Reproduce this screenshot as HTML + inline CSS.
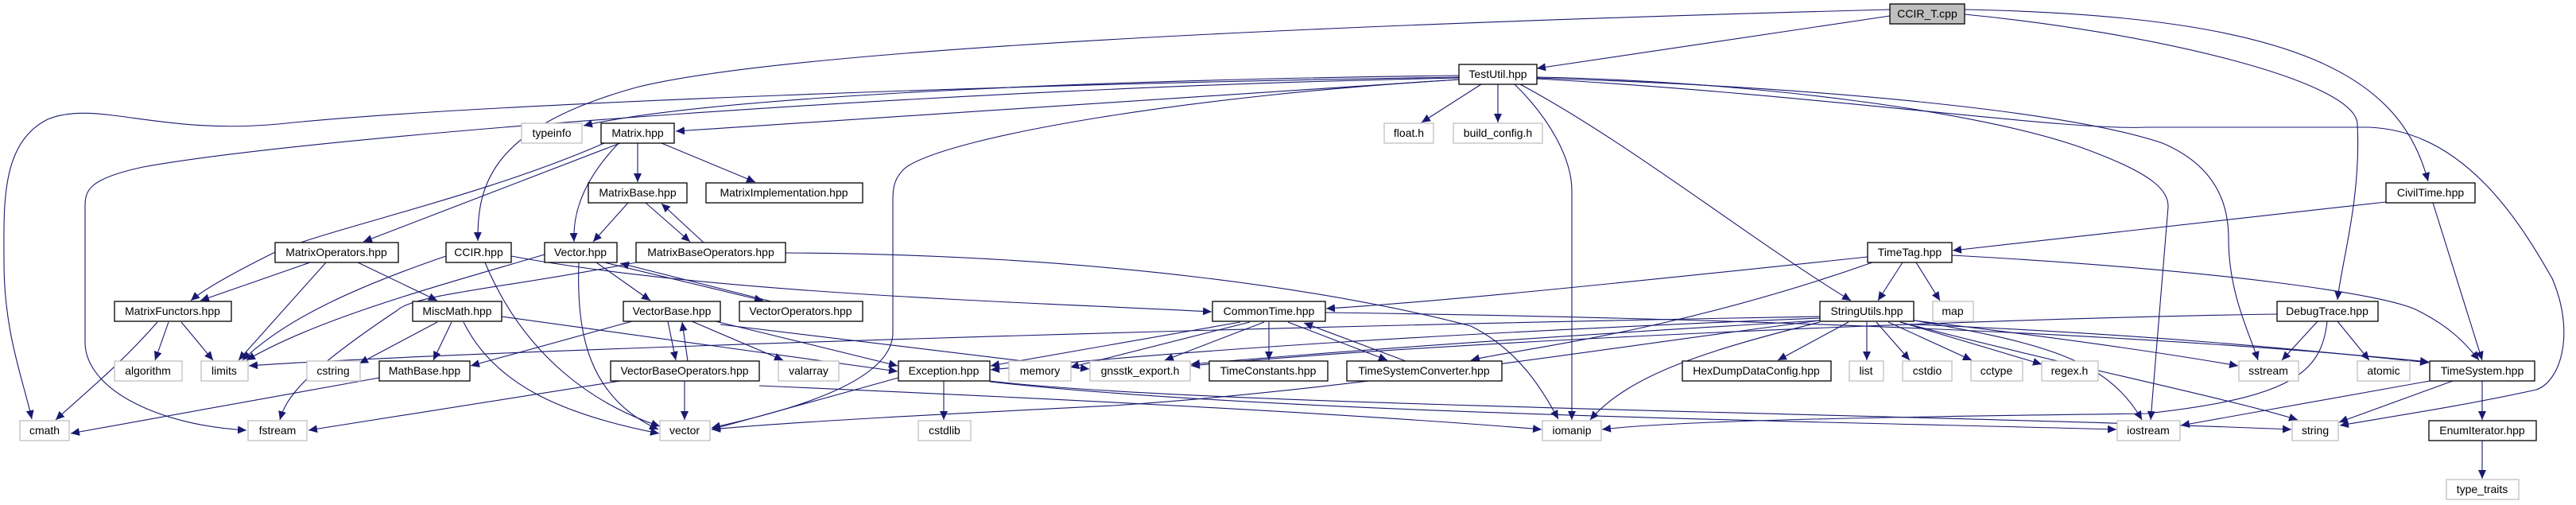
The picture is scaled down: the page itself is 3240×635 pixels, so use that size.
<!DOCTYPE html>
<html><head><meta charset="utf-8"><style>
html,body{margin:0;padding:0;background:#fff}
svg{display:block}
text{font-family:"Liberation Sans",sans-serif;font-size:14px;fill:#000}
.n{fill:#fff;stroke:#000;stroke-width:1.3}
.g{fill:#fff;stroke:#bfbfbf;stroke-width:1.3}
.e{fill:none;stroke:#191970;stroke-width:1.1;marker-end:url(#a)}
</style></head><body>
<svg width="3240" height="635" viewBox="0 0 3240 635" xmlns="http://www.w3.org/2000/svg">
<defs><marker id="a" markerUnits="userSpaceOnUse" markerWidth="12" markerHeight="10" refX="11" refY="5" orient="auto"><path d="M0,0 L11,5 L0,10 z" fill="#191970"/></marker></defs>
<g>
<path class="e" d="M2377,20 L1933,86"/>
<path class="e" d="M2377,12 C1700,30 1000,60 800,110 C620,160 600,230 601,303"/>
<path class="e" d="M2471,12 C2900,20 3020,100 3054,228"/>
<path class="e" d="M2471,18 C2700,40 2960,100 2965,155 C2970,250 2945,330 2940,377"/>
<path class="e" d="M1835,95 C1400,100 900,120 734,158"/>
<path class="e" d="M1835,100 L850,165"/>
<path class="e" d="M1835,97 C1300,105 600,130 350,156 C200,170 120,125 60,150 C0,180 5,260 5,330 C5,420 30,480 40,527"/>
<path class="e" d="M1835,98 C1200,110 400,170 180,210 C110,225 107,240 107,260 L107,430 C107,490 200,535 310,541"/>
<path class="e" d="M1835,100 C1500,120 1200,170 1140,210 C1122,225 1123,240 1123,260 L1123,420 C1120,490 950,525 895,538"/>
<path class="e" d="M1863,106 L1788,154"/>
<path class="e" d="M1884,106 L1884,154"/>
<path class="e" d="M1905,106 C1950,150 1977,200 1977,240 L1977,528"/>
<path class="e" d="M1933,97 C2200,102 2500,140 2630,190 C2710,220 2727,240 2727,260 L2705,528"/>
<path class="e" d="M1933,98 C2300,110 2600,140 2720,180 C2790,210 2803,260 2803,300 C2803,370 2830,420 2840,453"/>
<path class="e" d="M1933,99 C2300,120 2600,165 2700,160 L2980,160 C3100,165 3170,280 3210,350 C3240,420 3220,480 3190,490 C3100,510 3000,525 2943,535"/>
<path class="e" d="M1912,106 C2050,180 2200,300 2328,378"/>
<path class="e" d="M802,180 L802,229"/>
<path class="e" d="M832,180 L950,229"/>
<path class="e" d="M780,180 L457,304"/>
<path class="e" d="M760,180 C600,250 400,290 340,320 C290,345 255,365 240,378"/>
<path class="e" d="M778,180 C740,220 720,260 722,304"/>
<path class="e" d="M790,255 L746,304"/>
<path class="e" d="M812,255 L868,304"/>
<path class="e" d="M885,305 L832,256"/>
<path class="e" d="M988,318 C1400,320 1700,370 1850,410 C1910,440 1940,490 1960,527"/>
<path class="e" d="M390,330 L252,378"/>
<path class="e" d="M410,330 L300,453"/>
<path class="e" d="M450,330 L550,378"/>
<path class="e" d="M561,322 C450,360 360,400 305,453"/>
<path class="e" d="M610,330 C660,450 750,510 830,536"/>
<path class="e" d="M643,322 C900,370 1300,380 1524,392"/>
<path class="e" d="M685,320 C550,360 400,400 310,453"/>
<path class="e" d="M750,330 L818,378"/>
<path class="e" d="M760,330 L960,378"/>
<path class="e" d="M970,379 L780,331"/>
<path class="e" d="M728,330 C725,420 740,500 828,540"/>
<path class="e" d="M800,330 C650,360 520,370 500,390 C380,470 360,500 352,528"/>
<path class="e" d="M840,404 L850,453"/>
<path class="e" d="M865,454 L858,405"/>
<path class="e" d="M795,404 L592,460"/>
<path class="e" d="M870,404 L985,453"/>
<path class="e" d="M900,404 L1129,460"/>
<path class="e" d="M906,408 L1370,464"/>
<path class="e" d="M861,479 L861,528"/>
<path class="e" d="M780,479 L388,541"/>
<path class="e" d="M955,485 C1300,500 1700,520 1939,540"/>
<path class="e" d="M198,405 C150,460 100,500 70,528"/>
<path class="e" d="M212,405 L195,453"/>
<path class="e" d="M228,405 L268,453"/>
<path class="e" d="M550,405 L452,457"/>
<path class="e" d="M568,405 L545,453"/>
<path class="e" d="M583,405 C620,480 700,520 829,545"/>
<path class="e" d="M631,398 L1129,467"/>
<path class="e" d="M477,475 L89,545"/>
<path class="e" d="M1560,405 L1246,460"/>
<path class="e" d="M1572,405 L1346,462"/>
<path class="e" d="M1590,405 L1465,453"/>
<path class="e" d="M1596,405 L1596,453"/>
<path class="e" d="M1620,405 L1745,453"/>
<path class="e" d="M1768,454 L1640,406"/>
<path class="e" d="M1667,393 C2200,400 2700,420 3055,455"/>
<path class="e" d="M1187,479 L1187,528"/>
<path class="e" d="M1130,475 L895,540"/>
<path class="e" d="M1245,479 C1500,510 2400,520 2882,540"/>
<path class="e" d="M1245,480 C1600,520 2300,530 2662,540"/>
<path class="e" d="M2349,323 C2000,360 1800,380 1668,388"/>
<path class="e" d="M2393,330 L2362,378"/>
<path class="e" d="M2410,330 L2440,378"/>
<path class="e" d="M2455,321 C2800,340 3000,370 3040,390 C3080,410 3100,430 3118,453"/>
<path class="e" d="M2355,330 C2100,420 1900,440 1850,453"/>
<path class="e" d="M3001,254 L2456,315"/>
<path class="e" d="M3060,255 L3122,453"/>
<path class="e" d="M2325,405 L2236,453"/>
<path class="e" d="M2348,405 L2348,453"/>
<path class="e" d="M2360,405 L2402,453"/>
<path class="e" d="M2375,405 L2480,453"/>
<path class="e" d="M2390,405 L2568,458"/>
<path class="e" d="M2407,403 C2550,420 2700,440 2815,460"/>
<path class="e" d="M2407,408 C2700,420 2900,440 3055,456"/>
<path class="e" d="M2408,403 C2560,430 2650,449 2694,528"/>
<path class="e" d="M2390,405 C2600,460 2800,500 2890,528"/>
<path class="e" d="M2289,405 C2150,440 2050,470 2000,528"/>
<path class="e" d="M2289,400 C1800,420 1500,440 1246,465"/>
<path class="e" d="M2289,403 C2000,420 1700,440 1498,458"/>
<path class="e" d="M2289,398 C1600,410 600,440 313,460"/>
<path class="e" d="M2289,403 C2000,440 1700,490 1400,510 C1200,520 1000,530 895,540"/>
<path class="e" d="M2915,404 L2870,453"/>
<path class="e" d="M2940,404 L2980,453"/>
<path class="e" d="M2927,404 C2920,470 2880,500 2700,520 C2300,525 2100,530 2015,540"/>
<path class="e" d="M2864,395 C2500,400 1800,430 1498,460"/>
<path class="e" d="M3056,479 L2743,535"/>
<path class="e" d="M3085,479 L2942,531"/>
<path class="e" d="M3122,479 L3122,528"/>
<path class="e" d="M3122,554 L3122,602"/>
</g>
<g>
<rect x="2377" y="5" width="94" height="25" fill="#bfbfbf" stroke="#000" stroke-width="1.3"/><text x="2424" y="22" text-anchor="middle">CCIR_T.cpp</text>
<rect class="n" x="1835" y="81" width="98" height="25"/><text x="1884" y="98" text-anchor="middle">TestUtil.hpp</text>
<rect class="g" x="656" y="155" width="76" height="25"/><text x="694" y="172" text-anchor="middle">typeinfo</text>
<rect class="n" x="756" y="155" width="92" height="25"/><text x="802" y="172" text-anchor="middle">Matrix.hpp</text>
<rect class="g" x="1741" y="155" width="62" height="25"/><text x="1772" y="172" text-anchor="middle">float.h</text>
<rect class="g" x="1828" y="155" width="112" height="25"/><text x="1884" y="172" text-anchor="middle">build_config.h</text>
<rect class="n" x="740" y="230" width="124" height="25"/><text x="802" y="247" text-anchor="middle">MatrixBase.hpp</text>
<rect class="n" x="888" y="230" width="197" height="25"/><text x="986" y="247" text-anchor="middle">MatrixImplementation.hpp</text>
<rect class="n" x="3001" y="230" width="112" height="25"/><text x="3057" y="247" text-anchor="middle">CivilTime.hpp</text>
<rect class="n" x="346" y="305" width="155" height="25"/><text x="423" y="322" text-anchor="middle">MatrixOperators.hpp</text>
<rect class="n" x="561" y="305" width="82" height="25"/><text x="602" y="322" text-anchor="middle">CCIR.hpp</text>
<rect class="n" x="685" y="305" width="91" height="25"/><text x="730" y="322" text-anchor="middle">Vector.hpp</text>
<rect class="n" x="800" y="305" width="188" height="25"/><text x="894" y="322" text-anchor="middle">MatrixBaseOperators.hpp</text>
<rect class="n" x="2349" y="305" width="106" height="25"/><text x="2402" y="322" text-anchor="middle">TimeTag.hpp</text>
<rect class="n" x="144" y="379" width="147" height="25"/><text x="217" y="396" text-anchor="middle">MatrixFunctors.hpp</text>
<rect class="n" x="519" y="379" width="112" height="25"/><text x="575" y="396" text-anchor="middle">MiscMath.hpp</text>
<rect class="n" x="784" y="379" width="122" height="25"/><text x="845" y="396" text-anchor="middle">VectorBase.hpp</text>
<rect class="n" x="930" y="379" width="155" height="25"/><text x="1007" y="396" text-anchor="middle">VectorOperators.hpp</text>
<rect class="n" x="1525" y="379" width="142" height="25"/><text x="1596" y="396" text-anchor="middle">CommonTime.hpp</text>
<rect class="n" x="2289" y="379" width="118" height="25"/><text x="2348" y="396" text-anchor="middle">StringUtils.hpp</text>
<rect class="g" x="2431" y="379" width="51" height="25"/><text x="2456" y="396" text-anchor="middle">map</text>
<rect class="n" x="2864" y="379" width="127" height="25"/><text x="2927" y="396" text-anchor="middle">DebugTrace.hpp</text>
<rect class="g" x="144" y="454" width="85" height="25"/><text x="186" y="471" text-anchor="middle">algorithm</text>
<rect class="g" x="253" y="454" width="59" height="25"/><text x="282" y="471" text-anchor="middle">limits</text>
<rect class="g" x="386" y="454" width="67" height="25"/><text x="419" y="471" text-anchor="middle">cstring</text>
<rect class="n" x="477" y="454" width="114" height="25"/><text x="534" y="471" text-anchor="middle">MathBase.hpp</text>
<rect class="n" x="768" y="454" width="187" height="25"/><text x="861" y="471" text-anchor="middle">VectorBaseOperators.hpp</text>
<rect class="g" x="979" y="454" width="76" height="25"/><text x="1017" y="471" text-anchor="middle">valarray</text>
<rect class="n" x="1130" y="454" width="115" height="25"/><text x="1187" y="471" text-anchor="middle">Exception.hpp</text>
<rect class="g" x="1269" y="454" width="78" height="25"/><text x="1308" y="471" text-anchor="middle">memory</text>
<rect class="g" x="1371" y="454" width="126" height="25"/><text x="1434" y="471" text-anchor="middle">gnsstk_export.h</text>
<rect class="n" x="1521" y="454" width="149" height="25"/><text x="1595" y="471" text-anchor="middle">TimeConstants.hpp</text>
<rect class="n" x="1694" y="454" width="195" height="25"/><text x="1791" y="471" text-anchor="middle">TimeSystemConverter.hpp</text>
<rect class="n" x="2116" y="454" width="187" height="25"/><text x="2209" y="471" text-anchor="middle">HexDumpDataConfig.hpp</text>
<rect class="g" x="2326" y="454" width="43" height="25"/><text x="2347" y="471" text-anchor="middle">list</text>
<rect class="g" x="2393" y="454" width="62" height="25"/><text x="2424" y="471" text-anchor="middle">cstdio</text>
<rect class="g" x="2479" y="454" width="65" height="25"/><text x="2511" y="471" text-anchor="middle">cctype</text>
<rect class="g" x="2568" y="454" width="71" height="25"/><text x="2603" y="471" text-anchor="middle">regex.h</text>
<rect class="g" x="2816" y="454" width="75" height="25"/><text x="2853" y="471" text-anchor="middle">sstream</text>
<rect class="g" x="2965" y="454" width="66" height="25"/><text x="2998" y="471" text-anchor="middle">atomic</text>
<rect class="n" x="3056" y="454" width="132" height="25"/><text x="3122" y="471" text-anchor="middle">TimeSystem.hpp</text>
<rect class="g" x="25" y="529" width="62" height="25"/><text x="56" y="546" text-anchor="middle">cmath</text>
<rect class="g" x="312" y="529" width="74" height="25"/><text x="349" y="546" text-anchor="middle">fstream</text>
<rect class="g" x="830" y="529" width="63" height="25"/><text x="861" y="546" text-anchor="middle">vector</text>
<rect class="g" x="1155" y="529" width="66" height="25"/><text x="1188" y="546" text-anchor="middle">cstdlib</text>
<rect class="g" x="1940" y="529" width="74" height="25"/><text x="1977" y="546" text-anchor="middle">iomanip</text>
<rect class="g" x="2663" y="529" width="79" height="25"/><text x="2702" y="546" text-anchor="middle">iostream</text>
<rect class="g" x="2883" y="529" width="58" height="25"/><text x="2912" y="546" text-anchor="middle">string</text>
<rect class="n" x="3055" y="529" width="135" height="25"/><text x="3122" y="546" text-anchor="middle">EnumIterator.hpp</text>
<rect class="g" x="3077" y="603" width="91" height="25"/><text x="3122" y="620" text-anchor="middle">type_traits</text>
</g>
</svg>
</body></html>
